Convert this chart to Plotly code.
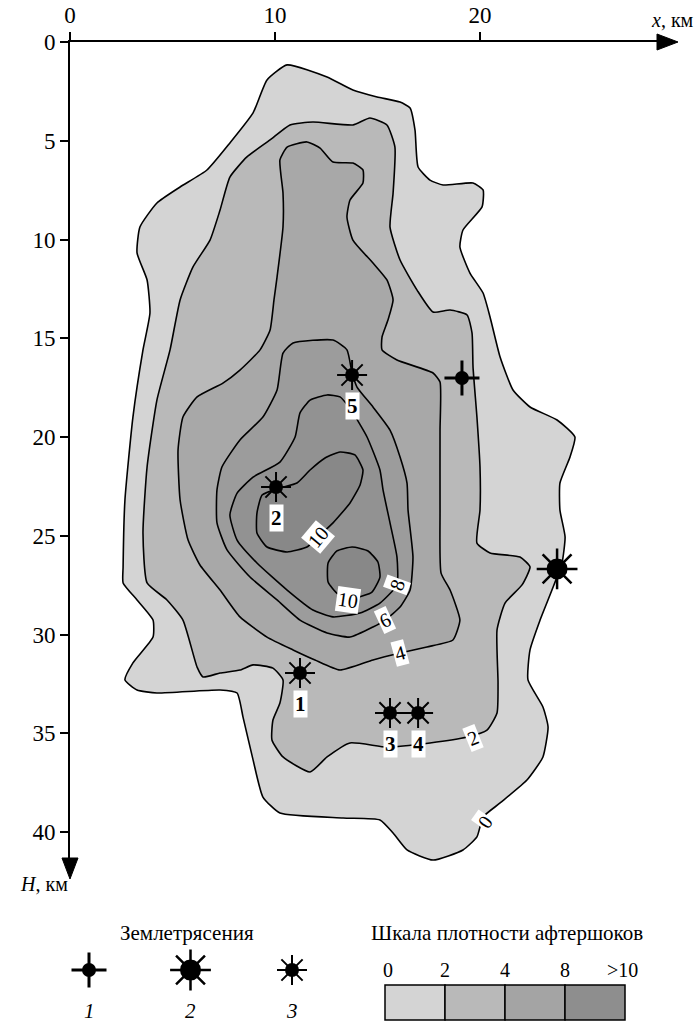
import plotly.graph_objects as go

# ---------------- data (x, km ; H, km) ----------------
iso0_x = [10.59, 12.54, 13.80, 14.98, 16.10, 16.59, 16.83, 16.98, 17.56, 18.20, 19.66, 20.15, 20.10, 19.17, 19.02,
          19.51, 20.15, 20.49, 20.98, 21.61, 22.44, 23.76, 24.63, 24.39, 23.90, 23.90, 24.15, 24.00, 23.51, 22.93,
          22.44, 22.34, 23.07, 23.32, 23.07, 22.29, 20.98, 20.15, 19.85, 19.17, 17.71, 16.44, 15.76, 15.12, 13.32,
          10.24, 9.41, 8.93, 8.44, 8.15, 7.32, 4.24, 3.27, 2.68, 3.07, 4.05, 4.05, 3.27, 2.59, 2.59, 2.68, 3.07,
          3.56, 3.90, 3.76, 3.27, 3.41, 4.24, 5.37, 6.68, 7.80, 8.93, 9.61]
iso0_h = [1.16, 1.77, 2.43, 2.78, 3.04, 3.34, 4.46, 6.33, 6.99, 7.24, 7.14, 7.49, 8.35, 9.52, 10.38,
          11.70, 12.71, 13.92, 15.95, 17.62, 18.48, 19.14, 20.00, 21.01, 22.33, 23.70, 25.06, 26.38, 27.75, 29.27,
          30.78, 32.30, 33.67, 34.68, 36.20, 37.37, 38.53, 39.24, 40.25, 40.91, 41.42, 40.91, 40.05, 39.39, 39.29,
          39.04, 38.23, 36.35, 34.18, 32.96, 32.81, 32.96, 32.81, 32.30, 31.44, 30.13, 29.27, 28.25, 27.39, 26.58,
          23.19, 18.99, 15.59, 13.72, 12.05, 10.68, 9.37, 8.15, 7.34, 6.48, 5.11, 3.59, 1.92]

iso2_x = [11.85, 13.80, 14.63, 15.46, 15.85, 15.76, 15.61, 16.10, 16.93, 17.71, 18.54, 19.37, 19.61, 19.66, 19.85,
          20.00, 20.00, 19.85, 20.49, 21.95, 22.44, 22.05, 21.22, 20.83, 20.88, 20.83, 20.34, 19.37, 17.56, 15.46,
          13.66, 12.54, 11.71, 10.39, 9.85, 9.90, 10.24, 10.39, 9.90, 8.93, 8.29, 7.32, 6.49, 6.20, 5.51, 4.73,
          3.76, 3.56, 3.76, 4.24, 4.88, 5.37, 6.00, 6.83, 7.32, 7.80, 8.63, 9.76, 10.73]
iso2_h = [4.05, 4.20, 3.85, 4.20, 5.32, 7.65, 9.37, 11.04, 12.56, 13.67, 13.57, 13.82, 14.73, 16.46, 18.99,
          21.52, 23.70, 25.37, 25.87, 26.08, 26.58, 27.49, 28.41, 29.77, 32.46, 33.97, 34.84, 35.19, 35.49, 35.70,
          35.49, 36.20, 36.96, 36.20, 35.34, 34.33, 33.47, 32.30, 31.70, 31.54, 31.80, 31.95, 32.15, 31.65, 29.27, 28.25,
          27.39, 24.86, 21.52, 18.13, 15.59, 13.06, 11.39, 10.03, 8.51, 6.84, 5.82, 4.96, 4.20]

iso4_x = [10.59, 11.56, 12.20, 12.83, 13.80, 14.29, 14.29, 13.66, 13.51, 13.80, 14.78, 15.46, 15.76, 15.51, 15.22,
          15.22, 15.95, 17.71, 18.05, 18.05, 18.05, 18.10, 18.54, 19.02, 18.68, 17.41, 16.10, 14.78, 13.17, 11.95,
          10.88, 9.61, 8.29, 7.32, 6.34, 5.76, 5.37, 5.27, 5.51, 6.20, 7.46, 8.29, 9.27, 9.76, 9.95, 10.10, 10.39,
          10.39, 10.24]
iso4_h = [5.32, 5.06, 5.37, 6.08, 6.13, 6.48, 7.14, 8.00, 8.86, 10.03, 11.19, 12.05, 13.06, 14.08, 14.94,
          15.59, 16.10, 16.76, 17.22, 19.65, 23.70, 26.89, 27.75, 29.27, 30.28, 30.63, 30.94, 31.29, 31.80, 31.29,
          30.78, 30.13, 29.11, 27.75, 26.48, 25.22, 23.19, 20.66, 18.99, 17.97, 17.27, 16.61, 15.59, 14.58, 13.06, 11.90, 9.37,
          7.65, 5.97]

iso6_x = [10.88, 12.83, 13.51, 13.76, 14.00, 14.78, 15.61, 16.10, 16.44, 16.49, 16.73, 16.59, 16.10, 15.37, 14.78,
          13.66, 12.54, 11.22, 10.10, 8.78, 7.66, 7.17, 7.17, 7.41, 8.29, 9.41, 10.10, 10.39]
iso6_h = [15.24, 15.09, 15.59, 16.76, 17.47, 18.48, 19.65, 21.01, 22.33, 23.70, 26.08, 27.75, 28.61, 29.27, 29.62,
          30.13, 29.92, 29.27, 28.25, 27.09, 25.72, 24.35, 22.68, 21.52, 20.15, 18.99, 17.62, 15.75]

iso8_x = [12.54, 13.17, 13.80, 14.49, 15.12, 15.27, 15.61, 15.95, 15.95, 15.12, 14.15, 12.83, 11.85, 10.59, 9.12,
          8.15, 7.80, 8.15, 8.93, 10.24, 10.98, 11.22, 11.71]
iso8_h = [17.87, 17.97, 18.78, 20.00, 21.67, 22.68, 24.35, 26.08, 27.49, 28.41, 28.91, 29.11, 28.76, 27.75, 26.38,
          25.22, 23.95, 22.84, 22.03, 21.27, 20.00, 18.78, 18.13]

iso10a_x = [9.37, 9.12, 9.12, 9.61, 10.59, 11.56, 12.10, 12.83, 13.66, 14.15, 14.29, 13.90, 13.17, 12.44, 11.71,
            11.07, 10.24]
iso10a_h = [22.94, 23.85, 24.86, 25.57, 25.82, 25.57, 25.06, 24.35, 23.34, 22.43, 21.67, 20.91, 20.76, 21.06, 21.67,
            22.33, 22.58]

iso10b_x = [13.76, 14.54, 15.02, 15.12, 14.73, 13.90, 13.07, 12.59, 12.59, 13.02]
iso10b_h = [25.57, 25.77, 26.33, 27.09, 27.85, 28.15, 27.95, 27.34, 26.38, 25.77]

iso_label_text = ["10", "10", "8", "6", "4", "2", "0"]
iso_label_x = [12.10, 13.56, 15.95, 15.37, 16.10, 19.66, 20.24]
iso_label_h = [25.06, 28.25, 27.49, 29.27, 30.94, 35.24, 39.49]

quake_x = [19.12, 23.76, 13.76, 10.05, 11.22, 15.61, 16.98]
quake_h = [17.01, 26.68, 16.86, 22.53, 31.95, 33.97, 33.97]
quake_type = [1, 2, 3, 3, 3, 3, 3]
quake_label = ["", "", "5", "2", "1", "3", "4"]

x_ticks = [0, 10, 20]
h_ticks = [0, 5, 10, 15, 20, 25, 30, 35, 40]

legend_types = [1, 2, 3]
legend_type_names = ["1", "2", "3"]
scale_ticks = ["0", "2", "4", "8", ">10"]

# ---------------- styles ----------------
W, H = 696, 1023
SERIF = "'Liberation Serif', 'Times New Roman', 'DejaVu Serif', serif"
fills = ["#d4d4d4", "#b9b9b9", "#a8a8a8", "#9c9c9c", "#929292", "#888888", "#888888"]
scale_fills = ["#d4d4d4", "#b9b9b9", "#a4a4a4", "#8e8e8e"]
label_angles = [-50, 8, -70, -25, -15, -22, -55]
sym = {1: dict(line="cross-thin-open", lsize=25, lw=3, csize=14),
       2: dict(line="asterisk-open", lsize=34, lw=2.5, csize=21),
       3: dict(line="asterisk-open", lsize=25, lw=2, csize=14)}

# plot-area geometry in pixels
px_left, px_right, px_top, px_bottom = 70, 662, 42, 862
px_per_km_x, px_per_km_h = 20.5, 19.75

fig = go.Figure()

polys = [(iso0_x, iso0_h), (iso2_x, iso2_h), (iso4_x, iso4_h), (iso6_x, iso6_h),
         (iso8_x, iso8_h), (iso10a_x, iso10a_h), (iso10b_x, iso10b_h)]
for (xs, hs), col in zip(polys, fills):
    fig.add_trace(go.Scatter(x=xs + [xs[0]], y=hs + [hs[0]], mode="lines", fill="toself", fillcolor=col,
                             line=dict(color="black", width=1.6, shape="spline", smoothing=0.5),
                             hoverinfo="skip", showlegend=False))


def add_quakes(xs, hs, types, xa="x", ya="y"):
    for t in (1, 2, 3):
        sx = [x for x, tt in zip(xs, types) if tt == t]
        sy = [h for h, tt in zip(hs, types) if tt == t]
        if not sx:
            continue
        s = sym[t]
        fig.add_trace(go.Scatter(x=sx, y=sy, mode="markers", xaxis=xa, yaxis=ya, cliponaxis=False,
                                 marker=dict(symbol=s["line"], size=s["lsize"], color="black",
                                             line=dict(color="black", width=s["lw"])),
                                 hoverinfo="skip", showlegend=False))
        fig.add_trace(go.Scatter(x=sx, y=sy, mode="markers", xaxis=xa, yaxis=ya, cliponaxis=False,
                                 marker=dict(symbol="circle", size=s["csize"], color="black",
                                             line=dict(width=0)),
                                 hoverinfo="skip", showlegend=False))


add_quakes(quake_x, quake_h, quake_type)

annotations = []
for x, h, lab in zip(quake_x, quake_h, quake_label):
    if lab:
        annotations.append(dict(x=x, y=h, xref="x", yref="y", text="<b>%s</b>" % lab, showarrow=False,
                                yshift=-31, font=dict(family=SERIF, size=21, color="black"),
                                bgcolor="white", borderpad=1))
for x, h, lab, ang in zip(iso_label_x, iso_label_h, iso_label_text, label_angles):
    annotations.append(dict(x=x, y=h, xref="x", yref="y", text=lab, showarrow=False, textangle=ang,
                            font=dict(family=SERIF, size=20, color="black"), bgcolor="white", borderpad=1))

# axis titles
annotations.append(dict(x=696 / W, y=1 - 20 / H, xref="paper", yref="paper", xanchor="right", yanchor="middle",
                        text="<i>x</i>, км", showarrow=False, font=dict(family=SERIF, size=20, color="black")))
annotations.append(dict(x=18 / W, y=1 - 884 / H, xref="paper", yref="paper", xanchor="left", yanchor="middle",
                        text="<i>H</i>, км", showarrow=False, font=dict(family=SERIF, size=20, color="black")))

# ---------------- legend (pixel-like axis x2/y2) ----------------
leg_x0, leg_dx = 89, 101.5
leg_x = [leg_x0 + i * leg_dx for i in range(len(legend_types))]
add_quakes(leg_x, [970] * len(leg_x), legend_types, "x2", "y2")
for x, name in zip(leg_x, legend_type_names):
    annotations.append(dict(x=x, y=1011, xref="x2", yref="y2", text="<i>%s</i>" % name, showarrow=False,
                            font=dict(family=SERIF, size=21, color="black")))
annotations.append(dict(x=187, y=933, xref="x2", yref="y2", text="Землетрясения", showarrow=False,
                        font=dict(family=SERIF, size=21, color="black")))
annotations.append(dict(x=507, y=933, xref="x2", yref="y2", text="Шкала плотности афтершоков", showarrow=False,
                        font=dict(family=SERIF, size=21, color="black")))

shapes = []
box_x0, box_w, box_y0, box_y1 = 385, 60, 985, 1020
for i, col in enumerate(scale_fills):
    shapes.append(dict(type="rect", xref="x2", yref="y2", x0=box_x0 + i * box_w, x1=box_x0 + (i + 1) * box_w,
                       y0=box_y0, y1=box_y1, fillcolor=col, line=dict(color="black", width=1.5)))
for i, t in enumerate(scale_ticks):
    xx = box_x0 + i * box_w + (3 if i == 0 else 0) - (3 if i == len(scale_ticks) - 1 else 0)
    annotations.append(dict(x=xx, y=970, xref="x2", yref="y2", text=t, showarrow=False,
                            font=dict(family=SERIF, size=20, color="black")))

# arrow heads (paper = whole figure since margins are zero)
def P(px, py):
    return "%.5f,%.5f" % (px / W, 1 - py / H)

shapes.append(dict(type="path", xref="paper", yref="paper",
                   path="M%s L%s L%s Z" % (P(678, 42), P(657, 34), P(657, 50)),
                   fillcolor="black", line=dict(color="black", width=1)))
shapes.append(dict(type="path", xref="paper", yref="paper",
                   path="M%s L%s L%s Z" % (P(70, 879), P(62, 858), P(78, 858)),
                   fillcolor="black", line=dict(color="black", width=1)))

fig.update_layout(
    width=W, height=H, margin=dict(l=0, r=0, t=0, b=0),
    paper_bgcolor="white", plot_bgcolor="rgba(0,0,0,0)",
    showlegend=False,
    font=dict(family=SERIF),
    xaxis=dict(domain=[px_left / W, px_right / W], range=[0, (px_right - px_left) / px_per_km_x],
               side="top", anchor="y", tickvals=x_ticks, ticks="outside", ticklen=8, tickwidth=2,
               tickcolor="black", showline=True, linewidth=2, linecolor="black", showgrid=False,
               zeroline=False, tickfont=dict(family=SERIF, size=23, color="black"), automargin=False,
               fixedrange=True),
    yaxis=dict(domain=[1 - px_bottom / H, 1 - px_top / H], range=[(px_bottom - px_top) / px_per_km_h, 0],
               anchor="x", tickvals=h_ticks, ticks="outside", ticklen=8, tickwidth=2, tickcolor="black",
               showline=True, linewidth=2, linecolor="black", showgrid=False, zeroline=False,
               tickfont=dict(family=SERIF, size=23, color="black"), automargin=False, fixedrange=True),
    xaxis2=dict(domain=[0, 1], range=[0, W], anchor="y2", visible=False, fixedrange=True),
    yaxis2=dict(domain=[0, 1 - 880 / H], range=[H, 880], anchor="x2", visible=False, fixedrange=True),
    annotations=annotations, shapes=shapes,
)

fig.write_html("out.html")
